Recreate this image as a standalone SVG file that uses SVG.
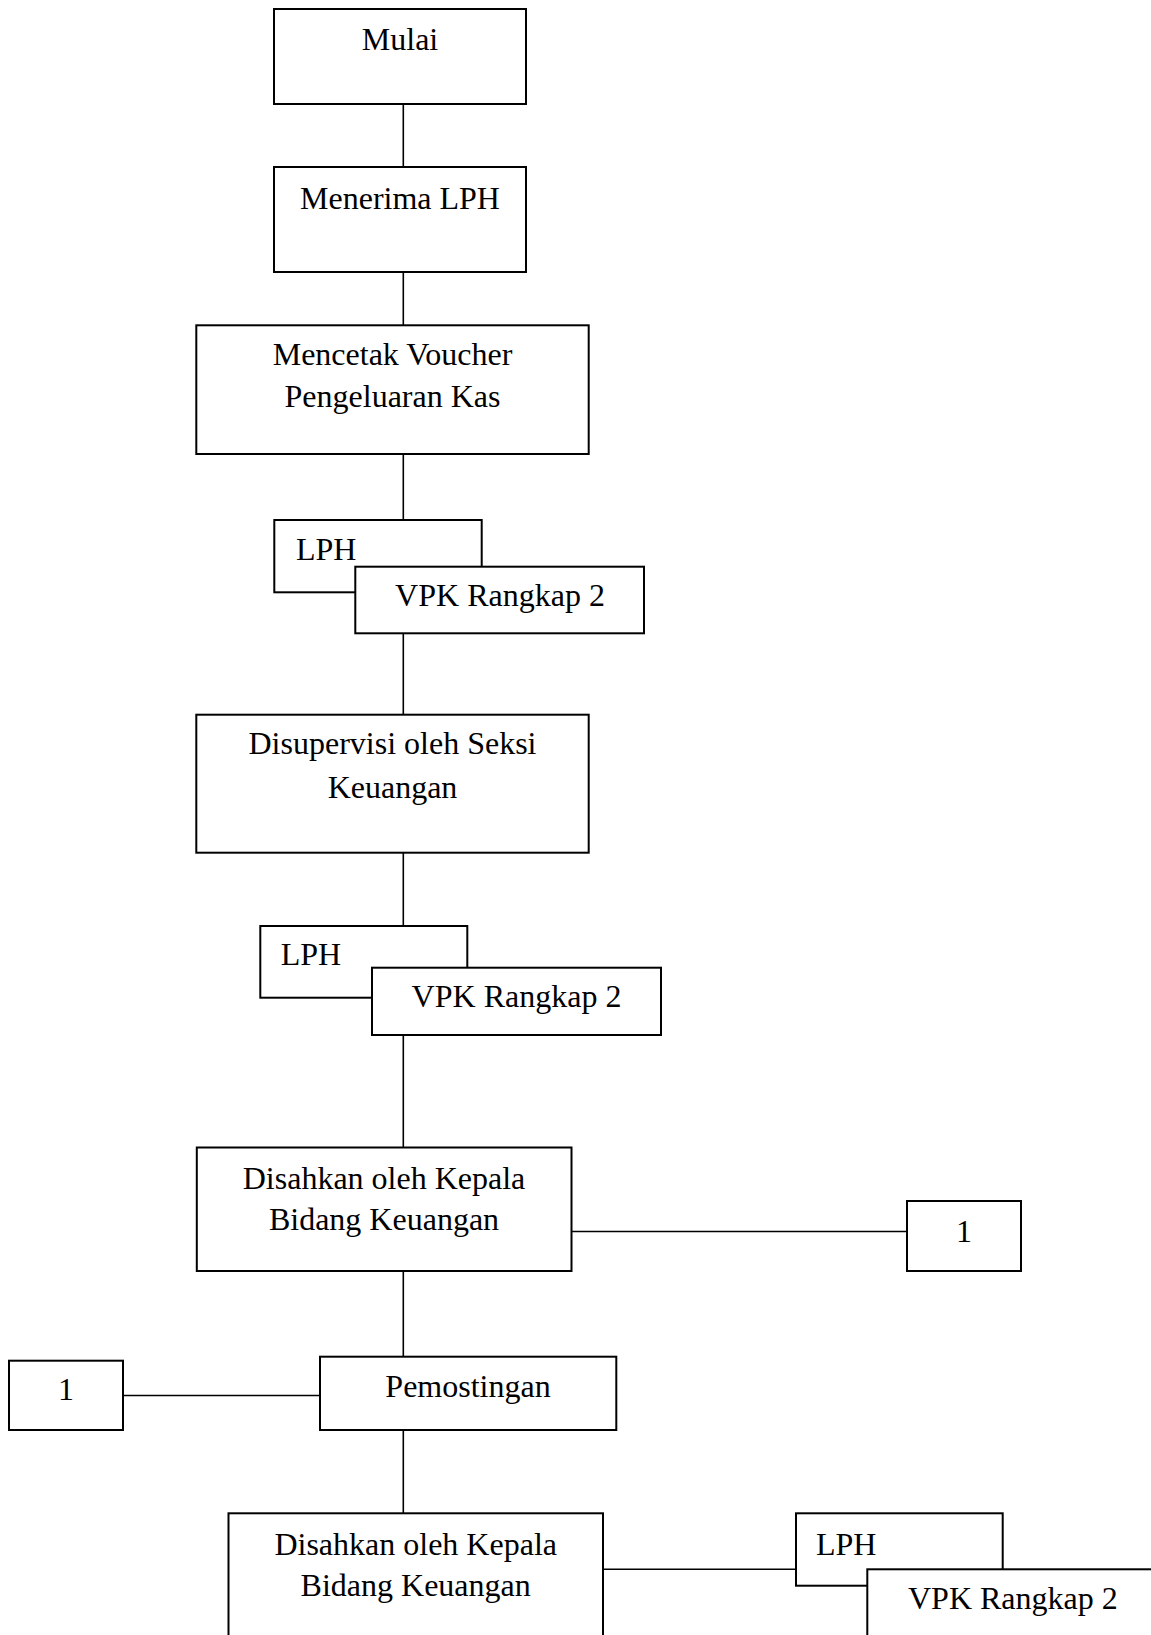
<svg xmlns="http://www.w3.org/2000/svg" width="1151" height="1635" viewBox="0 0 1151 1635">
<style>
.box{fill:#fff;stroke:#000;stroke-width:2}
.ln{stroke:#000;stroke-width:1.6;fill:none}
text{font-family:"Liberation Serif","Times New Roman",serif;font-size:32px;fill:#000}
.c{text-anchor:middle}
</style>
<rect width="1151" height="1635" fill="#fff"/>
<g id="connectors">
<line class="ln" x1="403.3" y1="104" x2="403.3" y2="167"/>
<line class="ln" x1="403.3" y1="272" x2="403.3" y2="325"/>
<line class="ln" x1="403.3" y1="455" x2="403.3" y2="520"/>
<line class="ln" x1="403.3" y1="633" x2="403.3" y2="715"/>
<line class="ln" x1="403.3" y1="853" x2="403.3" y2="926"/>
<line class="ln" x1="403.3" y1="1035" x2="403.3" y2="1148"/>
<line class="ln" x1="571.5" y1="1231.5" x2="907" y2="1231.5"/>
<line class="ln" x1="403.3" y1="1271" x2="403.3" y2="1357"/>
<line class="ln" x1="123" y1="1395.5" x2="320" y2="1395.5"/>
<line class="ln" x1="403.3" y1="1430" x2="403.3" y2="1513"/>
<line class="ln" x1="603" y1="1569.3" x2="796" y2="1569.3"/>
</g>
<g id="mulai">
<rect class="box" x="274" y="9" width="252" height="95"/>
<text class="c" x="400" y="50">Mulai</text>
</g>
<g id="menerima">
<rect class="box" x="274" y="167" width="252" height="105"/>
<text class="c" x="400" y="209">Menerima LPH</text>
</g>
<g id="mencetak">
<rect class="box" x="196.3" y="325.3" width="392.4" height="128.7"/>
<text class="c" x="392.5" y="365">Mencetak Voucher</text>
<text class="c" x="392.5" y="407.3">Pengeluaran Kas</text>
</g>
<g id="lph1">
<rect class="box" x="274.3" y="520" width="207.4" height="72.3"/>
<text x="296" y="560">LPH</text>
</g>
<g id="vpk1">
<rect class="box" x="355.3" y="566.7" width="288.7" height="66.6"/>
<text class="c" x="500" y="606">VPK Rangkap 2</text>
</g>
<g id="disupervisi">
<rect class="box" x="196.3" y="714.7" width="392.4" height="138"/>
<text class="c" x="392.5" y="754.3">Disupervisi oleh Seksi</text>
<text class="c" x="392.5" y="797.7">Keuangan</text>
</g>
<g id="lph2">
<rect class="box" x="260.3" y="926" width="207" height="71.7"/>
<text x="280.7" y="965">LPH</text>
</g>
<g id="vpk2">
<rect class="box" x="372" y="967.7" width="289" height="67.3"/>
<text class="c" x="516.5" y="1006.7">VPK Rangkap 2</text>
</g>
<g id="disahkan1">
<rect class="box" x="196.8" y="1147.5" width="374.7" height="123.5"/>
<text class="c" x="384" y="1189.3">Disahkan oleh Kepala</text>
<text class="c" x="384" y="1230">Bidang Keuangan</text>
</g>
<g id="konektor1a">
<rect class="box" x="907" y="1201" width="114" height="70"/>
<text class="c" x="964" y="1241.7">1</text>
</g>
<g id="konektor1b">
<rect class="box" x="9" y="1360.7" width="114" height="69.3"/>
<text class="c" x="66" y="1400">1</text>
</g>
<g id="pemostingan">
<rect class="box" x="320" y="1356.7" width="296.3" height="73.3"/>
<text class="c" x="468" y="1397.3">Pemostingan</text>
</g>
<g id="disahkan2">
<rect class="box" x="228.5" y="1513.3" width="374.5" height="140"/>
<text class="c" x="415.7" y="1555">Disahkan oleh Kepala</text>
<text class="c" x="415.7" y="1596">Bidang Keuangan</text>
</g>
<g id="lph3">
<rect class="box" x="796" y="1513.3" width="206.7" height="72.4"/>
<text x="816" y="1555">LPH</text>
</g>
<g id="vpk3">
<rect class="box" x="867.3" y="1569.3" width="300" height="80"/>
<text x="908" y="1608.5">VPK Rangkap 2</text>
</g>
</svg>
